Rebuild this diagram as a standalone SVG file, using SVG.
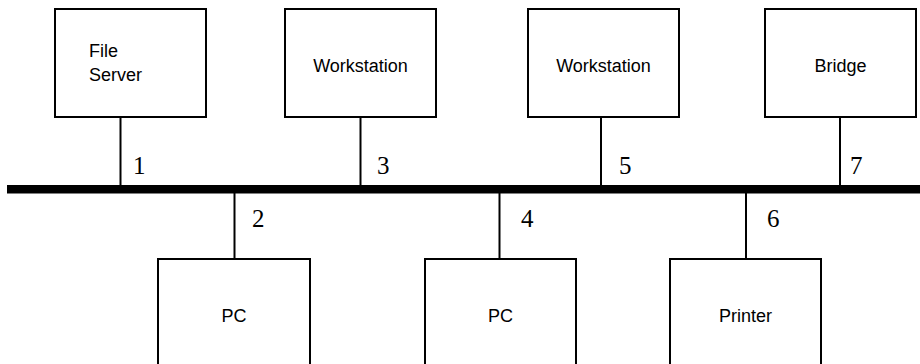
<svg xmlns="http://www.w3.org/2000/svg" width="920" height="364" viewBox="0 0 920 364">
<style>
.box{fill:#fff;stroke:#000;stroke-width:2}
.lbl{font-family:"Liberation Sans",Arial,sans-serif;font-size:18px;fill:#000}
.num{font-family:"Liberation Serif","Times New Roman",serif;font-size:25px;fill:#000}
.tap{stroke:#000;stroke-width:2;fill:none}
</style>
<rect width="920" height="364" fill="#fff"/>
<g id="connectors">
<line class="tap" x1="120.5" y1="117" x2="120.5" y2="189"/>
<line class="tap" x1="360.5" y1="117" x2="360.5" y2="189"/>
<line class="tap" x1="601" y1="117" x2="601" y2="189"/>
<line class="tap" x1="840" y1="117" x2="840" y2="189"/>
<line class="tap" x1="234.5" y1="189" x2="234.5" y2="259"/>
<line class="tap" x1="499.5" y1="189" x2="499.5" y2="259"/>
<line class="tap" x1="746" y1="189" x2="746" y2="259"/>
<rect id="bus" x="7" y="185" width="913" height="8.5" fill="#000"/>
<text class="num" x="133" y="174">1</text>
<text class="num" x="252" y="227">2</text>
<text class="num" x="377" y="174">3</text>
<text class="num" x="521" y="227">4</text>
<text class="num" x="619" y="174">5</text>
<text class="num" x="767" y="227">6</text>
<text class="num" x="850" y="174">7</text>
</g>
<g id="fileserver">
<rect class="box" x="55" y="9" width="151" height="108"/>
<text class="lbl" x="89" y="57">File</text>
<text class="lbl" x="89" y="81">Server</text>
</g>
<g id="workstation1">
<rect class="box" x="285" y="9" width="151" height="108"/>
<text class="lbl" x="360.5" y="72" text-anchor="middle">Workstation</text>
</g>
<g id="workstation2">
<rect class="box" x="528" y="9" width="151" height="108"/>
<text class="lbl" x="603.5" y="72" text-anchor="middle">Workstation</text>
</g>
<g id="bridge">
<rect class="box" x="765" y="9" width="151" height="108"/>
<text class="lbl" x="840.5" y="72" text-anchor="middle">Bridge</text>
</g>
<g id="pc1">
<rect class="box" x="158" y="259" width="152" height="120"/>
<text class="lbl" x="234" y="322" text-anchor="middle">PC</text>
</g>
<g id="pc2">
<rect class="box" x="425" y="259" width="151" height="120"/>
<text class="lbl" x="500.5" y="322" text-anchor="middle">PC</text>
</g>
<g id="printer">
<rect class="box" x="670" y="259" width="151" height="120"/>
<text class="lbl" x="745.5" y="322" text-anchor="middle">Printer</text>
</g>
</svg>
